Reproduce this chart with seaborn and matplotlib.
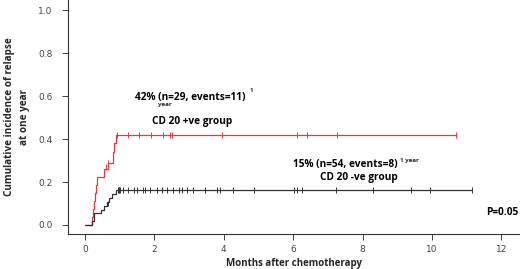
import numpy as np
import pandas as pd
import seaborn as sns
from pylab import plt

# cumulative incidence step curves (months, value)
pos_times = [0, 0.2, 0.23, 0.26, 0.29, 0.32, 0.35, 0.56, 0.66, 0.80, 0.84, 0.88, 10.7]
pos_values = [0, 0.037, 0.074, 0.11, 0.148, 0.185, 0.222, 0.26, 0.29, 0.34, 0.38, 0.42, 0.42]

neg_times = [0, 0.2, 0.25, 0.47, 0.55, 0.62, 0.7, 0.78, 0.88, 11.16]
neg_values = [0, 0.018, 0.054, 0.072, 0.09, 0.108, 0.126, 0.144, 0.163, 0.163]

# censoring marks
pos_censor_t = [0.6, 0.66, 0.91, 1.25, 1.56, 1.89, 2.25, 2.45, 2.5, 3.96, 6.1, 6.39, 7.26, 10.7]
pos_censor_v = [0.27, 0.29] + [0.42] * 12

neg_censor_t = [0.66, 0.96, 0.98, 0.99, 1.01, 1.10, 1.25, 1.41, 1.49, 1.68, 1.73, 1.87, 2.07,
                2.21, 2.37, 2.55, 2.72, 2.79, 2.93, 3.12, 3.46, 3.80, 3.89, 4.26,
                4.87, 6.03, 6.10, 6.25, 7.23, 8.29, 9.39, 9.94, 11.16]
neg_censor_v = [0.10] + [0.163] * 32

x_ticks = [0, 2, 4, 6, 8, 10, 12]
y_ticks = [0.0, 0.2, 0.4, 0.6, 0.8, 1.0]

red = "#e23a3f"
black = "#333333"

curves = pd.concat([
    pd.DataFrame({"t": pos_times, "v": pos_values, "group": "pos"}),
    pd.DataFrame({"t": neg_times, "v": neg_values, "group": "neg"}),
])
censor = pd.concat([
    pd.DataFrame({"t": pos_censor_t, "v": pos_censor_v, "group": "pos"}),
    pd.DataFrame({"t": neg_censor_t, "v": neg_censor_v, "group": "neg"}),
])
palette = {"pos": red, "neg": black}

sns.set_style("ticks")
plt.rcParams["font.family"] = ["Open Sans", "DejaVu Sans"]

fig = plt.figure(figsize=(5.2, 2.69), dpi=100)
ax = fig.add_axes([68 / 520, 35 / 269, 452 / 520, 234 / 269])

sns.lineplot(data=curves, x="t", y="v", hue="group", palette=palette,
             estimator=None, sort=False, drawstyle="steps-post",
             linewidth=0.9, legend=False, ax=ax)
sns.scatterplot(data=censor, x="t", y="v", hue="group", palette=palette,
                marker="|", s=16, linewidth=0.7, legend=False, ax=ax)

ax.set_xlim(-0.49, 12.54)
ax.set_ylim(-0.042, 1.047)
ax.set_xticks(x_ticks)
ax.set_yticks(y_ticks)
ax.set_xticklabels([str(t) for t in x_ticks], family="DejaVu Sans", fontsize=6.5, color="#444")
ax.set_yticklabels(["{:.1f}".format(t) for t in y_ticks], family="DejaVu Sans", fontsize=6.5, color="#444")
ax.tick_params(axis="x", length=4, width=0.7, pad=4, colors="#444", labelcolor="#444")
ax.tick_params(axis="y", length=4, width=0.7, pad=7, colors="#444", labelcolor="#444")
for s in ("top", "right"):
    ax.spines[s].set_visible(False)
for s in ("left", "bottom"):
    ax.spines[s].set_linewidth(0.8)
    ax.spines[s].set_color("#333")

ax.set_xlabel("Months after chemotherapy", fontsize=7, fontweight="bold", labelpad=3)
ax.set_ylabel("Cumulative incidence of relapse\nat one year", fontsize=7.1, fontweight="bold",
              labelpad=6, linespacing=1.5)

tk = dict(fontsize=7.3, fontweight="bold", color="black")
ax.text(1.44, 0.595, "42% (n=29, events=11)", ha="left", va="center", **tk)
ax.text(4.75, 0.625, "1", ha="left", va="center", fontsize=4.5, fontweight="bold")
ax.text(2.3, 0.56, "year", ha="center", va="center", fontsize=4.5, fontweight="bold")
ax.text(3.08, 0.48, "CD 20 +ve group", ha="center", va="center", **tk)
ax.text(6.0, 0.28, "15% (n=54, events=8)", ha="left", va="center", **tk)
ax.text(9.08, 0.30, "1 year", ha="left", va="center", fontsize=4.5, fontweight="bold")
ax.text(7.9, 0.22, "CD 20 -ve group", ha="center", va="center", **tk)
ax.text(12.5, 0.056, "P=0.05", ha="right", va="center", **tk)

plt.savefig("out.png", dpi=100)
